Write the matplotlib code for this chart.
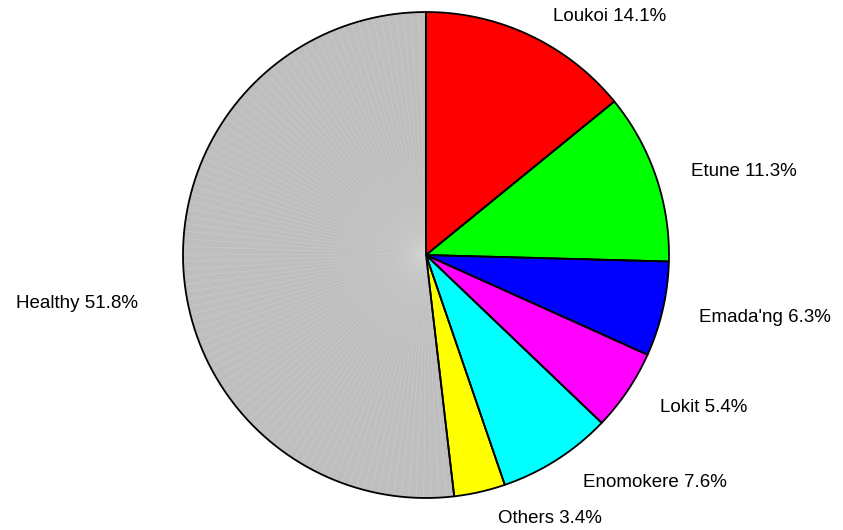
import numpy as np
import matplotlib.pyplot as plt
from matplotlib.patches import Polygon

plt.rcParams['font.family'] = ['Liberation Sans', 'DejaVu Sans']

# slices, clockwise from 12 o'clock
labels = ["Loukoi", "Etune", "Emada'ng", "Lokit", "Enomokere", "Others", "Healthy"]
shares = [14.1, 11.3, 6.3, 5.4, 7.6, 3.4, 51.8]
colors = ["#FF0000", "#00FF00", "#0000FF", "#FF00FF", "#00FFFF", "#FFFF00", "#BEBEBE"]

W, H = 843, 530
cx, cy, R = 426, 255, 243   # pie centre and radius in pixels

fig = plt.figure(figsize=(W / 100, H / 100), dpi=100)
ax = fig.add_axes([0, 0, 1, 1])
ax.set_xlim(-cx / R, (W - cx) / R)
ax.set_ylim(-(H - cy) / R, cy / R)
ax.set_aspect('equal')
ax.axis('off')

frac = np.array(shares) / sum(shares)
edges = np.concatenate([[0], np.cumsum(frac)])

for i, (lab, val, col) in enumerate(zip(labels, shares, colors)):
    t0, t1 = edges[i], edges[i + 1]
    n = max(2, int(np.ceil(200 * (t1 - t0))))
    ang = np.deg2rad(90 - 360 * np.linspace(t0, t1, n + 1))
    px, py = np.cos(ang), np.sin(ang)
    pts = np.vstack([[0, 0], np.column_stack([px, py])])
    ax.add_patch(Polygon(pts, closed=True, facecolor=col, edgecolor='none'))
    if col == "#BEBEBE":
        # faint fan seams seen in the grey slice of the original
        for k in range(0, n, 1):
            ax.plot([0, px[k]], [0, py[k]], color='#D6D6D6', lw=0.4, alpha=0.6)
    outline = np.vstack([[0, 0], np.column_stack([px, py]), [0, 0]])
    ax.plot(outline[:, 0], outline[:, 1], color='black', lw=1.3, solid_joinstyle='round')

    mid = np.deg2rad(90 - 360 * (t0 + t1) / 2)
    lx, ly = 1.1 * np.cos(mid), 1.1 * np.sin(mid)
    if lx >= 0:
        off, ha = (9, -2), 'left'
    else:
        off, ha = (-15, -24), 'right'
    ax.annotate(f"{lab} {val}%", (lx, ly), xytext=off, textcoords='offset points',
                ha=ha, va='center', fontsize=13.5)

fig.savefig("out.png", dpi=100)
